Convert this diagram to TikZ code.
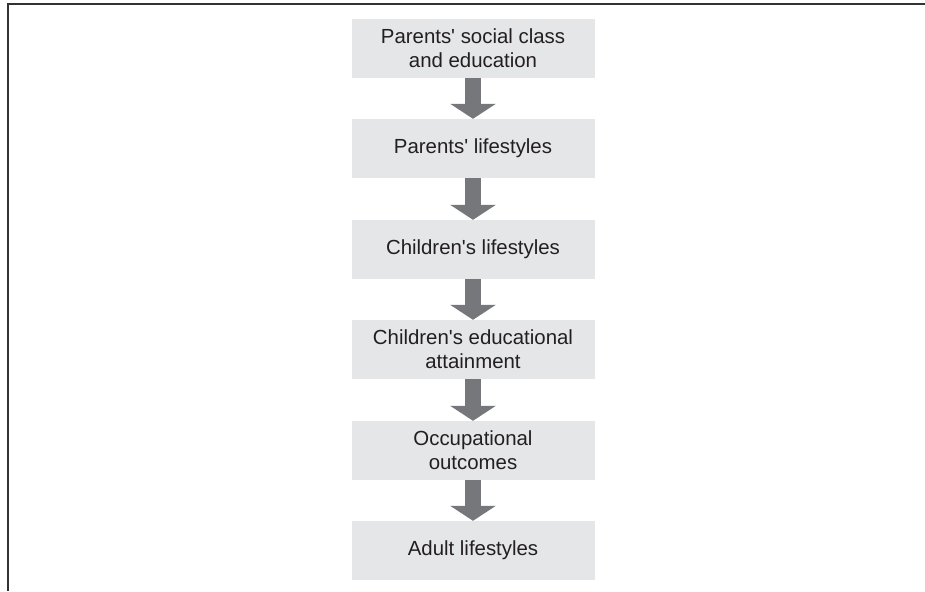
\documentclass[tikz,border=0pt]{standalone}
\usepackage{fontspec}
\setmainfont{Liberation Sans}[Ligatures=TeXOff]
\usetikzlibrary{arrows.meta}
\definecolor{boxgray}{HTML}{E5E6E7}
\definecolor{arrowgray}{HTML}{76777A}
\definecolor{framegray}{HTML}{333333}
\definecolor{textdark}{HTML}{231F20}
\begin{document}
\begin{tikzpicture}[x=1pt,y=-1pt,
  stage/.style={fill=boxgray, minimum width=243pt, minimum height=59pt,
    inner sep=0pt, align=center, text=textdark,
    font=\fontsize{20.4}{24}\selectfont},
  flow/.style={draw=arrowgray, line width=16pt,
    -{Triangle[width=45pt,length=15pt]}},
  frame/.style={draw=framegray, line width=1.5pt}]
\useasboundingbox (0,0) rectangle (925,591);
% open frame: top and left rules
\draw[frame] (925,4) -- (8,4) -- (8,591);
% stages
\node[stage] (s1) at (473,48.5) {Parents' social class\\and education};
\node[stage] (s2) at (473,148.5) {Parents' lifestyles};
\node[stage] (s3) at (473,249.5) {Children's lifestyles};
\node[stage] (s4) at (473,349.5) {Children's educational\\attainment};
\node[stage] (s5) at (473,450.5) {Occupational\\outcomes};
\node[stage] (s6) at (473,550.5) {Adult lifestyles};
% block arrows between stages
\draw[flow] (s1.south) -- (s2.north);
\draw[flow] (s2.south) -- (s3.north);
\draw[flow] (s3.south) -- (s4.north);
\draw[flow] (s4.south) -- (s5.north);
\draw[flow] (s5.south) -- (s6.north);
\end{tikzpicture}
\end{document}
